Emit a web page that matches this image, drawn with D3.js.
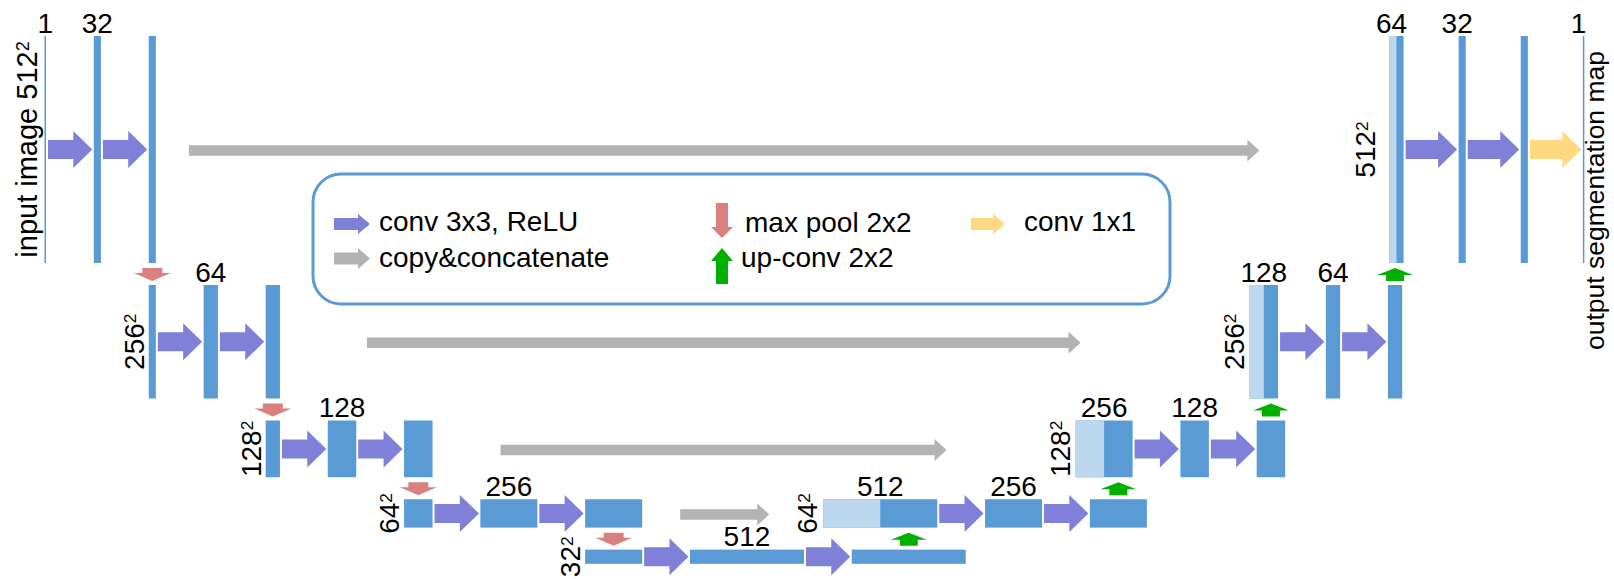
<html>
<script src='https://d3js.org/d3.v7.min.js'></script>
<style>
  body { margin: 0; background: white; }
  text { font-family: "Liberation Sans", Arial, sans-serif; fill: black; }
</style>
<body>
<svg width=1614 height=579></svg>
<script>
// ---- data ----
var resolutions = [512, 256, 128, 64, 32]
var encoderChannels = [[1, 32, 32], [32, 64, 64], [64, 128, 128], [128, 256, 256], [256, 512, 512]]
var decoderChannels = [[64, 32, 32, 1], [128, 64, 64], [256, 128, 128], [512, 256, 256]]
var encoderLabels = [["1", "32", ""], ["", "64", ""], ["", "128", ""], ["", "256", ""], ["", "512", ""]]
var decoderLabels = [["64", "32", "", "1"], ["128", "64", ""], ["256", "128", ""], ["512", "256", ""]]
var legendLabels = ["conv 3x3, ReLU", "copy&concatenate", "max pool 2x2", "up-conv 2x2", "conv 1x1"]
var inputLabel = "input image 512"
var outputLabel = "output segmentation map"

// ---- layout ----
var gap = 47.8          // space between blocks, filled by a conv arrow
var topGap = 55         // wider spacing on the last decoder level
var levelGap = 22
var copyStart = [33, 87, 68, 38]
var copyEnd = [130, 169, 129, 54]

var blue = "#5b9bd5", lightBlue = "#bdd7ee", purple = "#8080d8", gray = "#b3b3b3",
    red = "#d98080", green = "#00b000", yellow = "#ffd980"

var w = d3.scaleLinear().domain([0, 512]).range([0, 114])
var h = d3.scaleLinear().domain([0, 512]).range([0, 227])
function bw(c) { return Math.max(w(c), 1.5) }

var tops = [36]
for (var i = 1; i < resolutions.length; i++) tops.push(tops[i - 1] + h(resolutions[i - 1]) + levelGap)
function mid(i) { return tops[i] + h(resolutions[i]) / 2 }

var svg = d3.select("svg")
var line = d3.line()

function rightArrow(x0, x1, cy, sh, hh, hl) {
  return line([[x0, cy - sh / 2], [x1 - hl, cy - sh / 2], [x1 - hl, cy - hh / 2], [x1, cy],
    [x1 - hl, cy + hh / 2], [x1 - hl, cy + sh / 2], [x0, cy + sh / 2]]) + "Z"
}
function downArrow(cx, y0, y1, sw, hw, hl) {
  return line([[cx - sw / 2, y0], [cx + sw / 2, y0], [cx + sw / 2, y1 - hl], [cx + hw / 2, y1 - hl],
    [cx, y1], [cx - hw / 2, y1 - hl], [cx - sw / 2, y1 - hl]]) + "Z"
}
function upArrow(cx, y0, y1, sw, hw, hl) {
  return line([[cx, y0], [cx + hw / 2, y0 + hl], [cx + sw / 2, y0 + hl], [cx + sw / 2, y1],
    [cx - sw / 2, y1], [cx - sw / 2, y0 + hl], [cx - hw / 2, y0 + hl]]) + "Z"
}

// ---- build blocks ----
var enc = [], dec = []
var x = 44.5
encoderChannels.forEach(function(chs, lv) {
  if (lv > 0) x = enc[lv - 1][enc[lv - 1].length - 1].x
  enc[lv] = []
  chs.forEach(function(c, k) {
    enc[lv].push({x: x, w: bw(c), light: 0, level: lv, label: encoderLabels[lv][k], shift: 0})
    x += bw(c) + gap
  })
})
function centerOf(b) { return b.x + b.w / 2 }
for (var lv = decoderChannels.length - 1; lv >= 0; lv--) {
  var lower = lv == decoderChannels.length - 1 ? enc[lv + 1] : dec[lv + 1]
  var cx = centerOf(lower[lower.length - 1]) + (lv == 0 ? 5 : 0)
  var chs = decoderChannels[lv]
  var half = w(chs[0] / 2)
  var g = lv == 0 ? topGap : gap
  var sh = lv == 0 ? -5 : 0
  dec[lv] = [{x: cx - half * 1.5, w: half * 2, light: half, level: lv, label: decoderLabels[lv][0], shift: sh}]
  var xx = cx + half / 2 + g
  for (var k = 1; k < chs.length; k++) {
    dec[lv].push({x: xx, w: bw(chs[k]), light: 0, level: lv, label: decoderLabels[lv][k], shift: sh})
    xx += bw(chs[k]) + g
  }
}
var allBlocks = d3.merge(enc.concat(dec))

// ---- copy & concatenate arrows ----
for (var lv = 0; lv < decoderChannels.length; lv++) {
  var a = enc[lv][enc[lv].length - 1], b = dec[lv][0]
  svg.append("path")
    .attr("d", rightArrow(a.x + a.w + copyStart[lv], b.x - copyEnd[lv], mid(lv) + 1, 10.5, 22, 12))
    .attr("fill", gray)
}

// ---- conv arrows ----
enc.concat(dec).forEach(function(row, idx) {
  for (var k = 1; k < row.length; k++) {
    var p = row[k - 1], n = row[k]
    var last = idx == enc.length && k == row.length - 1
    svg.append("path")
      .attr("d", rightArrow(p.x + p.w + 2, n.x - 1.5, mid(p.level), 19, 37, 19))
      .attr("fill", last ? yellow : purple)
  }
})

// ---- blocks ----
svg.selectAll(".blk").data(allBlocks).enter().append("rect")
  .attr("class", "blk")
  .attr("x", function(d) { return d.x })
  .attr("y", function(d) { return tops[d.level] })
  .attr("width", function(d) { return d.w })
  .attr("height", function(d) { return h(resolutions[d.level]) })
  .attr("fill", blue)
svg.selectAll(".lt").data(allBlocks.filter(function(d) { return d.light > 0 })).enter().append("rect")
  .attr("x", function(d) { return d.x })
  .attr("y", function(d) { return tops[d.level] })
  .attr("width", function(d) { return d.light })
  .attr("height", function(d) { return h(resolutions[d.level]) })
  .attr("fill", lightBlue)

// ---- max pool / up-conv arrows ----
for (var lv = 0; lv < resolutions.length - 1; lv++) {
  var y0 = tops[lv] + h(resolutions[lv]) + 5, y1 = tops[lv + 1] - 4
  var e = enc[lv][enc[lv].length - 1]
  svg.append("path").attr("d", downArrow(centerOf(e), y0, y1, 20, 37, 8)).attr("fill", red)
  var lower = lv + 1 == enc.length - 1 ? enc[lv + 1] : dec[lv + 1]
  svg.append("path").attr("d", upArrow(centerOf(lower[lower.length - 1]), y0, y1, 18, 36, 7)).attr("fill", green)
}

// ---- channel labels ----
svg.selectAll(".num").data(allBlocks.filter(function(d) { return d.label })).enter().append("text")
  .attr("x", function(d) { return centerOf(d) + d.shift })
  .attr("y", function(d) { return tops[d.level] - 3.5 })
  .attr("text-anchor", "middle")
  .style("font-size", "28px")
  .text(function(d) { return d.label })

// ---- resolution labels (rotated) ----
function sizeLabel(bx, cy, txt, size) {
  var t = svg.append("text")
    .attr("transform", "translate(" + bx + "," + cy + ") rotate(-90)")
    .attr("text-anchor", "middle")
    .style("font-size", size + "px")
  t.append("tspan").text(txt)
  t.append("tspan").attr("dy", "-0.42em").style("font-size", "62%").text("2")
}
for (var lv = 1; lv < resolutions.length; lv++) sizeLabel(enc[lv][0].x - 5, mid(lv), String(resolutions[lv]), 28)
for (var lv = 0; lv < decoderChannels.length; lv++)
  sizeLabel(dec[lv][0].x - (lv == 0 ? 14 : 6), mid(lv), String(resolutions[lv]), 28)
sizeLabel(37, mid(0), inputLabel, 29)
svg.append("text")
  .attr("transform", "translate(1604," + (mid(0) + 51) + ") rotate(-90)")
  .attr("text-anchor", "middle")
  .style("font-size", "26.5px")
  .text(outputLabel)

// ---- legend ----
svg.append("rect").attr("x", 313).attr("y", 174).attr("width", 857).attr("height", 130)
  .attr("rx", 28).attr("fill", "none").attr("stroke", blue).attr("stroke-width", 3)
var legendShapes = [
  {d: rightArrow(334, 370, 224, 12, 20, 12), c: purple, tx: 379, ty: 231},
  {d: rightArrow(334, 370, 258.5, 12, 21, 12), c: gray, tx: 379, ty: 267},
  {d: downArrow(722, 203, 238, 12, 22, 11), c: red, tx: 745, ty: 232},
  {d: upArrow(722, 248, 284, 12, 22, 13), c: green, tx: 741, ty: 267},
  {d: rightArrow(971, 1005, 224, 12, 20, 12), c: yellow, tx: 1024, ty: 231}
]
legendShapes.forEach(function(s, i) {
  svg.append("path").attr("d", s.d).attr("fill", s.c)
  svg.append("text").attr("x", s.tx).attr("y", s.ty).style("font-size", "28px").text(legendLabels[i])
})
</script>
</body>
</html>
